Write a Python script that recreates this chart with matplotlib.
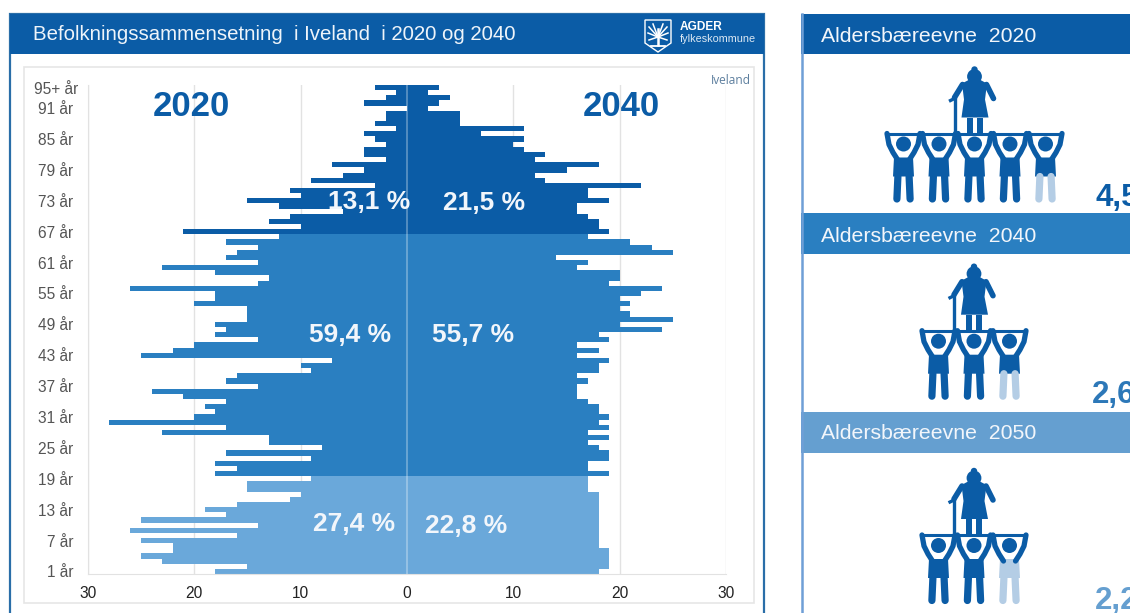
import math
import matplotlib
matplotlib.use('Agg')
import matplotlib.pyplot as plt
from matplotlib.patches import Rectangle, Circle, Polygon

plt.rcParams['font.family'] = ['Liberation Sans', 'DejaVu Sans']

W, H = 1130, 613

# Percent of population per age, read top (95+) to bottom (1 year)
ages = list(range(95, 0, -1))
pop_2020 = [3, 1, 2, 4, 0, 2, 2, 3, 1, 4, 3, 2, 4, 4, 2, 7, 4, 6, 9, 3,
            11, 10, 15, 12, 6, 11, 13, 10, 21, 12, 17, 14, 16, 17, 14, 23, 18, 13, 14, 26,
            18, 18, 20, 15, 15, 15, 18, 17, 18, 14, 20, 22, 25, 7, 10, 9, 16, 17, 14, 24,
            21, 17, 19, 18, 20, 28, 17, 23, 13, 13, 8, 17, 9, 18, 16, 18, 9, 15, 15, 10,
            11, 16, 19, 17, 25, 14, 26, 16, 25, 22, 22, 25, 23, 15, 18]
pop_2040 = [3, 2, 4, 3, 2, 5, 5, 5, 11, 7, 11, 10, 11, 13, 12, 18, 15, 12, 13, 22,
            17, 17, 19, 16, 16, 17, 18, 18, 19, 17, 21, 23, 25, 14, 17, 16, 20, 20, 19, 24,
            22, 20, 21, 20, 21, 25, 20, 24, 18, 19, 16, 18, 16, 19, 18, 18, 16, 17, 16, 16,
            16, 17, 18, 18, 19, 18, 19, 17, 19, 17, 18, 19, 19, 17, 17, 19, 17, 17, 17, 18,
            18, 18, 18, 18, 18, 18, 18, 18, 18, 18, 19, 19, 19, 19, 18]

old_from_age = 67
working_from_age = 20
age_ticks = [1, 7, 13, 19, 25, 31, 37, 43, 49, 55, 61, 67, 73, 79, 85, 91]
x_ticks = [-30, -20, -10, 0, 10, 20, 30]

pct_2020 = ['13,1 %', '59,4 %', '27,4 %']
pct_2040 = ['21,5 %', '55,7 %', '22,8 %']

support_years = ['2020', '2040', '2050']
support_ratio = [4.5, 2.6, 2.2]
support_text = ['4,5', '2,6', '2,2']

DARK = '#0b5ca6'
MID = '#2a7fc1'
LIGHT = '#6aa8da'
PALE = '#b4cde5'
HEAD2 = '#659fd0'

fig = plt.figure(figsize=(W / 100, H / 100), dpi=100, facecolor='white')


def label(x, y, s, **kw):
    kw.setdefault('va', 'center')
    return fig.text(x / W, 1 - y / H, s, **kw)


# ===========================
# Panels behind the chart
# ===========================
deco = fig.add_axes([0, 0, 1, 1], zorder=-1)
deco.set_xlim(0, W)
deco.set_ylim(H, 0)
deco.axis('off')

deco.add_patch(Rectangle((10, 14), 754, 620, fc='white', ec='#2a6ea8', lw=1.6))
deco.add_patch(Rectangle((10, 14), 754, 40, fc=DARK, ec='none'))
deco.add_patch(Rectangle((24, 67), 730, 536, fc='white', ec='#e6e6e6', lw=1.2))

deco.plot([801.5, 801.5], [14, 613], color='#6f9fd6', lw=1.8)
deco.add_patch(Rectangle((801, 14), 330, 40, fc=DARK, ec='none'))
deco.add_patch(Rectangle((801, 213), 330, 41, fc=MID, ec='none'))
deco.add_patch(Rectangle((801, 412), 330, 41, fc=HEAD2, ec='none'))

# Logo
deco.add_patch(Polygon([(645, 20), (671, 20), (671, 43), (658, 52), (645, 43)],
                       fc=DARK, ec='white', lw=1))
deco.plot([658, 658], [29, 45], color='white', lw=1.8)
for dx, dy in [(-9, -8), (9, -8), (-10, -2), (10, -2), (-9, 5), (9, 5), (-5, -11), (5, -11)]:
    deco.plot([658, 658 + dx], [37, 35 + dy], color='white', lw=1.1)
deco.plot([651, 665], [46, 46], color='white', lw=1.3)


# ===========================
# Pictograms
# ===========================
def bearer(cx, top, body_col, leg_col):
    for s in (-1, 1):
        deco.plot([cx + s * 16.5, cx + s * 14.5, cx + s * 10.5, cx + s * 6],
                  [top, top + 11, top + 19, top + 26],
                  color=DARK, lw=3.8, solid_capstyle='round')
    deco.plot([cx - 17.8, cx + 17.8], [top, top], color=DARK, lw=2.2, solid_capstyle='butt')
    deco.add_patch(Circle((cx, top + 10.5), 7.5, fc=DARK, ec='none'))
    deco.add_patch(Polygon([(cx - 9.5, top + 24), (cx + 9.5, top + 24), (cx + 10.5, top + 43),
                            (cx - 10.5, top + 43)], fc=body_col, ec='none'))
    for s in (-1, 1):
        deco.plot([cx + s * 5.6, cx + s * 6.6], [top + 43, top + 65.5],
                  color=leg_col, lw=5.2, solid_capstyle='round')


def old_woman(cx, top):
    deco.add_patch(Circle((cx, top - 57), 7.4, fc=DARK, ec='none'))
    deco.add_patch(Circle((cx, top - 64), 3.2, fc=DARK, ec='none'))
    deco.add_patch(Polygon([(cx - 5, top - 54), (cx + 5, top - 54), (cx + 12.5, top - 50),
                            (cx + 10.5, top - 34), (cx + 14, top - 16), (cx - 13, top - 16),
                            (cx - 10.5, top - 34), (cx - 12.5, top - 50)],
                           fc=DARK, ec='none'))
    deco.plot([cx - 12, cx - 20], [top - 49, top - 36], color=DARK, lw=4, solid_capstyle='round')
    deco.plot([cx + 12, cx + 19], [top - 49, top - 35], color=DARK, lw=4, solid_capstyle='round')
    deco.plot([cx - 20, cx - 20], [top - 35, top], color=DARK, lw=2.4)
    deco.plot([cx - 24, cx - 20], [top - 33, top - 35], color=DARK, lw=2.4)
    for s in (-1, 1):
        deco.add_patch(Rectangle((cx + s * 5 - 3, top - 16), 6, 16, fc=DARK, ec='none'))


tops = [133.5, 330.7, 535]
centers = [974.5, 974, 974]
for ratio, top, cx in zip(support_ratio, tops, centers):
    n = math.ceil(ratio)
    frac = ratio - math.floor(ratio)
    start = cx - 35.5 * ((n - 1) // 2)
    old_woman(cx, top)
    for i in range(n):
        body, legs = DARK, DARK
        if i == n - 1:
            legs = PALE
            if frac < 0.5:
                body = PALE
        bearer(start + i * 35.5, top, body, legs)

# ===========================
# Population pyramid
# ===========================
x0, x1 = 87.7, 726.2
y0, y1 = 85, 574
ax = fig.add_axes([x0 / W, 1 - y1 / H, (x1 - x0) / W, (y1 - y0) / H], zorder=1)
ax.patch.set_alpha(0)

colors = [DARK if a >= old_from_age else MID if a >= working_from_age else LIGHT for a in ages]
ax.barh(ages, [-v for v in pop_2020], height=1, color=colors, zorder=2)
ax.barh(ages, pop_2040, height=1, color=colors, zorder=2)
ax.axvline(0, color='white', alpha=0.35, lw=1.2, zorder=3)

ax.set_xlim(-30, 30)
ax.set_ylim(0.5, 95.5)
ax.set_xticks(x_ticks)
ax.set_xticklabels([abs(t) for t in x_ticks])
ax.set_yticks(age_ticks)
ax.set_yticklabels([f'{a} år' for a in age_ticks])
ax.tick_params(axis='both', length=0, labelsize=11.2)
ax.tick_params(axis='x', pad=8.5, labelcolor='#222222')
ax.tick_params(axis='y', pad=10.5, labelcolor='#555555')
ax.grid(axis='x', color='#e2e2e2', lw=1, zorder=1)
ax.set_axisbelow(True)
for side in ['top', 'right']:
    ax.spines[side].set_visible(False)
for side in ['left', 'bottom']:
    ax.spines[side].set_color('#e2e2e2')

# ===========================
# Text
# ===========================
label(33, 35, 'Befolkningssammensetning  i Iveland  i 2020 og 2040', color='#eef4fa', fontsize=14.65)
label(680, 27.5, 'AGDER', color='white', fontsize=8.6, fontweight='bold')
label(680, 39, 'fylkeskommune', color='#dbe8f4', fontsize=7.8)
label(751, 80, 'Iveland', color='#5d7f9e', fontsize=8.6, ha='right', family=['Open Sans', 'DejaVu Sans'])
label(78.5, 90, '95+ år', color='#555555', fontsize=11.2, ha='right')

label(191.5, 107, '2020', color=DARK, fontsize=25, fontweight='bold', ha='center')
label(621.5, 107, '2040', color=DARK, fontsize=25, fontweight='bold', ha='center')

for s, x, y in zip(pct_2020, [369, 350, 354], [202, 335, 524]):
    label(x, y, s, color='#f2f6fb', fontsize=19, fontweight='bold', ha='center')
for s, x, y in zip(pct_2040, [484, 473, 466], [203.5, 335, 526]):
    label(x, y, s, color='#f2f6fb', fontsize=19, fontweight='bold', ha='center')

for year, y in zip(support_years, [36, 236, 433.5]):
    label(821, y, f'Aldersbæreevne  {year}', color='#f2f6fb', fontsize=15.3)

for s, x, y, c in zip(support_text, [1095, 1092, 1095], [198, 395, 601], [DARK, '#2d78b8', HEAD2]):
    label(x, y, s, color=c, fontsize=22.5, fontweight='bold')

fig.savefig('out.png', dpi=100)
